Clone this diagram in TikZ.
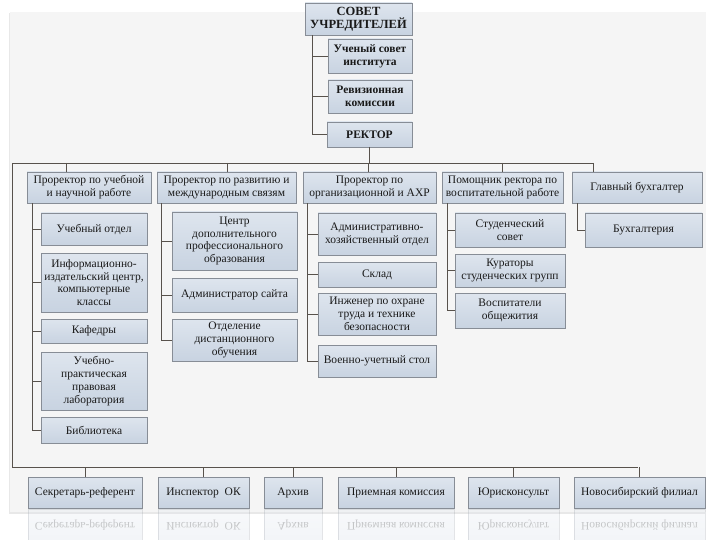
\documentclass[tikz,border=0pt]{standalone}
\usepackage{fontspec}
\setmainfont{Liberation Serif}
\usetikzlibrary{shadows}
\definecolor{boxtop}{RGB}{222,229,238}
\definecolor{boxbot}{RGB}{200,211,225}
\definecolor{boxline}{RGB}{135,141,150}
\definecolor{linkcol}{RGB}{88,82,76}
\definecolor{cardcol}{RGB}{245,245,245}
\tikzset{
  boxbase/.style={draw=boxline,line width=0.6pt,top color=boxtop,bottom color=boxbot,
    align=center,inner sep=1pt,text=black!90,font=\fontsize{11.5}{12.8}\selectfont},
  unit/.style={boxbase,drop shadow={shadow xshift=1.3pt,shadow yshift=-1.3pt,fill=black,opacity=0.35}},
  head/.style={unit,font=\bfseries\fontsize{11.5}{12.8}\selectfont},
  refl/.style={boxbase,yscale=-1,transform shape,opacity=0.22},
  link/.style={draw=linkcol,line width=0.7pt}
}
\begin{document}
\begin{tikzpicture}[x=1pt,y=-1pt]
\useasboundingbox (0,0) rectangle (720,540);
\fill[white] (0,0) rectangle (720,540);
\fill[cardcol,drop shadow={shadow xshift=-1.5pt,shadow yshift=-1.5pt,opacity=0.18}] (10,12) rectangle (706,512);
% top chain
\node[head,minimum width=107,minimum height=32,font=\bfseries\fontsize{12.5}{13.5}\selectfont] (sovet) at (358.5,19) {СОВЕТ\\УЧРЕДИТЕЛЕЙ};
\node[head,minimum width=84,minimum height=34] (uchsov) at (370,56) {Ученый совет\\института};
\node[head,minimum width=84,minimum height=33] (reviz) at (370,96.5) {Ревизионная\\комиссии};
\node[head,minimum width=85,minimum height=25] (rektor) at (369.5,134.5) {РЕКТОР};
\coordinate (k0) at (312,0);
\draw[link] (sovet.south -| k0) |- (rektor.west);
\foreach \n in {uchsov,reviz} \draw[link] (\n.west) -- (\n.west -| k0);
% second row
\node[unit,minimum width=124,minimum height=31] (p1) at (89,187.5) {Проректор по учебной\\и научной работе};
\node[unit,minimum width=139,minimum height=31] (p2) at (226.5,187.5) {Проректор по развитию и\\международным связям};
\node[unit,minimum width=133,minimum height=31] (p3) at (369.5,187.5) {Проректор по\\организационной и АХР};
\node[unit,minimum width=121,minimum height=31] (p4) at (502.5,187.5) {Помощник ректора по\\воспитательной работе};
\node[unit,minimum width=130,minimum height=31] (p5) at (637,187.5) {Главный бухгалтер};
\coordinate (busL) at (12,163);
\coordinate (busR) at (593,163);
\coordinate (bbusL) at (12,467);
\coordinate (bbusR) at (638,467);
\draw[link] (rektor.south) -- (rektor.south |- busL);
\draw[link] (busR) -- (busL) -- (bbusL) -- (bbusR);
\foreach \n/\x in {1/66,2/227,3/368,4/502,5/593}{
  \coordinate (tk\n) at (\x,163);
  \draw[link] (tk\n) -- (tk\n |- p\n.north);}
% column 1
\foreach \n/\cy/\h/\t in {a/229/32/Учебный отдел,
    b/282.5/59/Информационно-\\издательский центр{,}\\компьютерные\\классы,
    c/331/24/Кафедры,
    d/381/58/Учебно-\\практическая\\правовая\\лаборатория,
    e/430/26/Библиотека}
  \node[unit,minimum width=106,minimum height=\h] (c1\n) at (94,\cy) {\t};
\coordinate (k1) at (32,0);
\draw[link] (p1.south -| k1) |- (c1e.west);
\foreach \n in {a,b,c,d} \draw[link] (c1\n.west) -- (c1\n.west -| k1);
% column 2
\foreach \n/\cy/\h/\t in {a/241/58/Центр\\дополнительного\\профессионального\\образования,
    b/295/34/Администратор сайта,
    c/340/42/Отделение\\дистанционного\\обучения}
  \node[unit,minimum width=125,minimum height=\h] (c2\n) at (234.5,\cy) {\t};
\coordinate (k2) at (161,0);
\draw[link] (p2.south -| k2) |- (c2c.west);
\foreach \n in {a,b} \draw[link] (c2\n.west) -- (c2\n.west -| k2);
% column 3
\foreach \n/\cy/\h/\t in {a/234/42/Административно-\\хозяйственный отдел,
    b/274.5/25/Склад,
    c/314/42/Инженер по охране\\труда и технике\\безопасности,
    d/361/32/Военно-учетный стол}
  \node[unit,minimum width=118,minimum height=\h] (c3\n) at (377,\cy) {\t};
\coordinate (k3) at (307,0);
\draw[link] (p3.south -| k3) |- (c3d.west);
\foreach \n in {a,b,c} \draw[link] (c3\n.west) -- (c3\n.west -| k3);
% column 4
\foreach \n/\cy/\h/\t in {a/230/34/Студенческий\\совет,
    b/270.5/33/Кураторы\\студенческих групп,
    c/310.5/35/Воспитатели\\общежития}
  \node[unit,minimum width=110,minimum height=\h] (c4\n) at (510,\cy) {\t};
\coordinate (k4) at (447,0);
\draw[link] (p4.south -| k4) |- (c4c.west);
\foreach \n in {a,b} \draw[link] (c4\n.west) -- (c4\n.west -| k4);
% column 5
\node[unit,minimum width=117,minimum height=34] (c5a) at (643.5,230) {Бухгалтерия};
\coordinate (k5) at (577,0);
\draw[link] (p5.south -| k5) |- (c5a.west);
% bottom row and its reflection
\foreach \n/\cx/\w/\t in {1/85/114/Секретарь-референт,2/203.5/91/Инспектор\ \ ОК,3/293/58/Архив,
    4/396/116/Приемная комиссия,5/513.5/91/Юрисконсульт,6/639.5/131/Новосибирский филиал}{
  \node[refl,minimum width=\w,minimum height=31] (r\n) at (\cx,525) {\t};
  \node[unit,minimum width=\w,minimum height=31] (b\n) at (\cx,492.5) {\t};
  \draw[link] (b\n.north) -- (b\n.north |- bbusL);}
\end{tikzpicture}
\end{document}
